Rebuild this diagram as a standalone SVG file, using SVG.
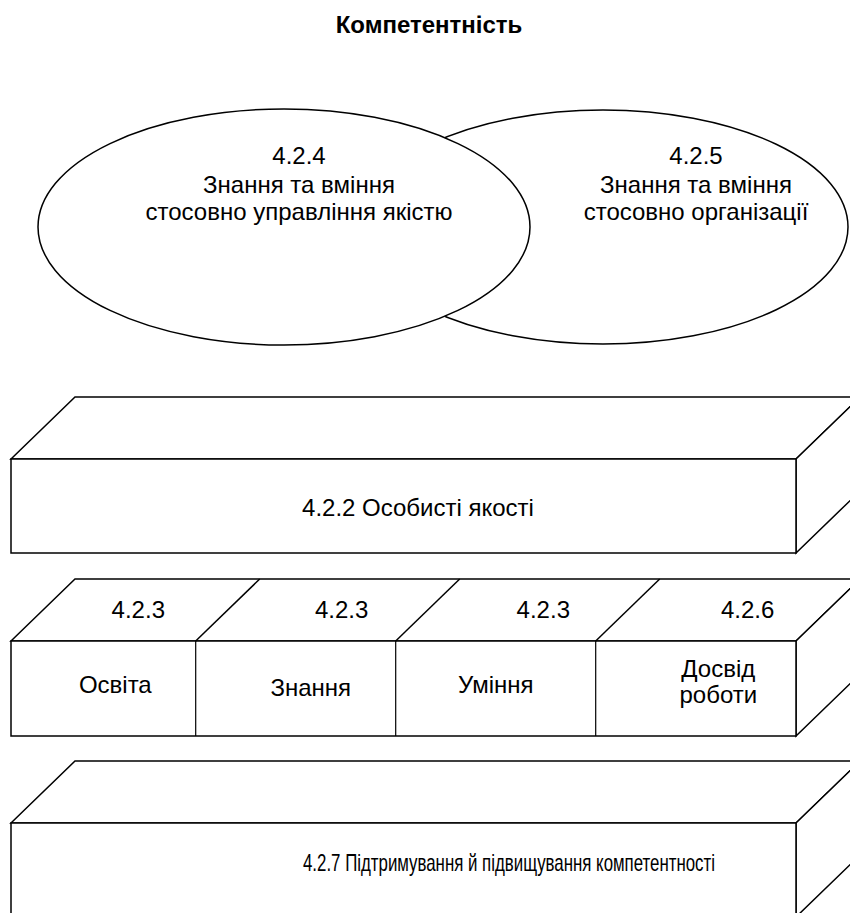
<svg xmlns="http://www.w3.org/2000/svg" width="850" height="913" viewBox="0 0 850 913">
<style>
  .bg { fill: #ffffff; }
  .shape { fill: #ffffff; stroke: #000000; stroke-width: 1.5; stroke-linejoin: miter; }
  .thin { fill: none; stroke: #000000; stroke-width: 1.2; }
  .diag { fill: none; stroke: #000000; stroke-width: 1.5; }
  .lbl { font-family: "Liberation Sans", Arial, sans-serif; font-size: 24px; fill: #000000; text-anchor: middle; }
  .title { font-family: "Liberation Sans", Arial, sans-serif; font-size: 24px; font-weight: bold; fill: #000000; text-anchor: middle; }
</style>
<rect class="bg" x="0" y="0" width="850" height="913"/>

<g id="title">
  <text class="title" x="429" y="33">Компетентність</text>
</g>

<g id="ellipse-425">
  <ellipse class="shape" cx="603" cy="227" rx="245" ry="117"/>
  <text class="lbl" x="696" y="164">4.2.5</text>
  <text class="lbl" x="696" y="193">Знання та вміння</text>
  <text class="lbl" x="696" y="220">стосовно організації</text>
</g>

<g id="ellipse-424">
  <ellipse class="shape" cx="284" cy="227" rx="246" ry="118"/>
  <text class="lbl" x="299" y="164">4.2.4</text>
  <text class="lbl" x="299" y="193">Знання та вміння</text>
  <text class="lbl" x="299" y="220">стосовно управління якістю</text>
</g>

<g id="box-422">
  <polygon class="shape" points="11,459 75,397 860,397 796,459"/>
  <polygon class="shape" points="796,459 860,397 860,491 796,553"/>
  <rect class="shape" x="11" y="459" width="785" height="94"/>
  <text class="lbl" x="418" y="516">4.2.2 Особисті якості</text>
</g>

<g id="box-row">
  <polygon class="shape" points="11,641 75,579 860,579 796,641"/>
  <polygon class="shape" points="796,641 860,579 860,674 796,736"/>
  <rect class="shape" x="11" y="641" width="785" height="95"/>
  <g id="row-dividers">
    <line class="thin" x1="195.7" y1="641" x2="195.7" y2="736"/>
    <line class="thin" x1="395.7" y1="641" x2="395.7" y2="736"/>
    <line class="thin" x1="595.7" y1="641" x2="595.7" y2="736"/>
    <line class="diag" x1="195.7" y1="641" x2="259.7" y2="579"/>
    <line class="diag" x1="395.7" y1="641" x2="459.7" y2="579"/>
    <line class="diag" x1="595.7" y1="641" x2="659.7" y2="579"/>
  </g>
  <g id="cell-osvita">
    <text class="lbl" x="138.3" y="618.3">4.2.3</text>
    <text class="lbl" x="115.3" y="693.3">Освіта</text>
  </g>
  <g id="cell-znannia">
    <text class="lbl" x="310.8" y="695.7">Знання</text>
    <text class="lbl" x="341.7" y="618.3">4.2.3</text>
  </g>
  <g id="cell-uminnia">
    <text class="lbl" x="543.3" y="618.3">4.2.3</text>
    <text class="lbl" x="495.8" y="693.3">Уміння</text>
  </g>
  <g id="cell-dosvid">
    <text class="lbl" x="747.7" y="618.3">4.2.6</text>
    <text class="lbl" x="718.3" y="677.3">Досвід</text>
    <text class="lbl" x="718.3" y="703.3">роботи</text>
  </g>
</g>

<g id="box-427">
  <polygon class="shape" points="11,823 75,761 860,761 796,823"/>
  <polygon class="shape" points="796,823 860,761 860,855 796,917"/>
  <rect class="shape" x="11" y="823" width="785" height="94"/>
  <text class="lbl" x="509" y="871" textLength="412" lengthAdjust="spacingAndGlyphs">4.2.7 Підтримування й підвищування компетентності</text>
</g>

<g id="connectors"></g>
</svg>
